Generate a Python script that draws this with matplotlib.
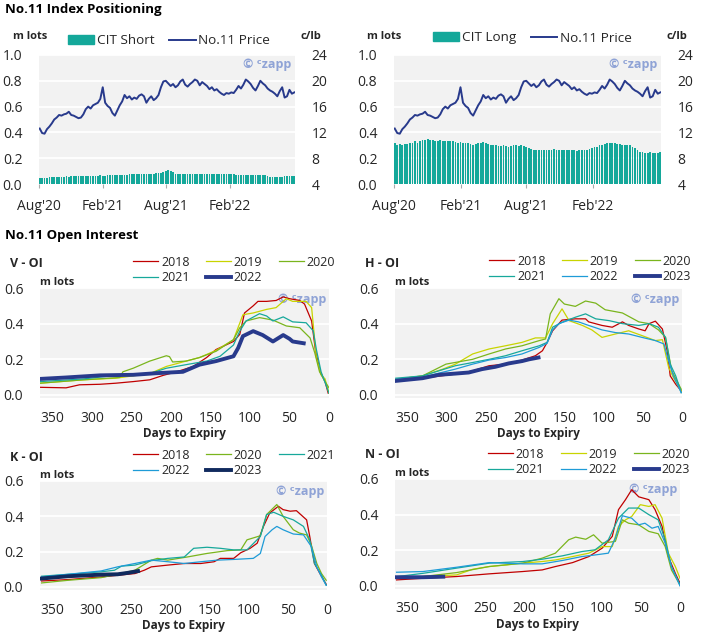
import matplotlib
matplotlib.use('Agg')
import matplotlib.pyplot as plt
import matplotlib.patches as mpatches
import matplotlib.lines as mlines
import numpy as np
import pandas as pd

plt.rcParams['font.family'] = ['Open Sans', 'DejaVu Sans']

# --- index positioning data (weekly) ---
weeks = pd.date_range('2020-08-02', periods=106, freq='7D')

price = [12.6, 11.9, 11.8, 12.5, 12.9, 13.4, 14.0, 14.3, 14.7, 14.6,
         14.8, 14.9, 15.2, 14.7, 14.6, 14.4, 14.2, 14.3, 14.8, 15.6,
         16.0, 15.7, 16.2, 16.4, 16.6, 17.2, 19.0, 16.6, 16.1, 15.8,
         15.0, 14.6, 15.4, 16.2, 16.8, 17.8, 17.3, 17.6, 17.1, 17.4,
         17.2, 17.7, 17.9, 17.6, 16.6, 17.2, 17.6, 17.0, 17.3, 17.8,
         19.0, 19.9, 20.0, 19.6, 19.2, 19.5, 19.0, 19.3, 19.9, 20.2,
         19.4, 19.1, 19.5, 19.8, 20.2, 20.0, 19.3, 19.8, 19.5, 19.2,
         18.7, 19.0, 18.5, 18.7, 18.3, 18.0, 17.8, 18.1, 18.0, 18.2,
         18.1, 18.6, 19.2, 18.8, 19.4, 20.2, 19.9, 19.5, 18.9, 18.5,
         19.2, 20.0, 19.6, 19.3, 18.8, 18.5, 18.3, 18.0, 17.6, 18.4,
         19.0, 17.4, 17.6, 18.6, 18.0, 18.2]

cit_short = [0.05, 0.045, 0.047, 0.05,
             0.055, 0.056, 0.055, 0.057, 0.058, 0.057, 0.058, 0.06, 0.058, 0.059, 0.06, 0.06, 0.059, 0.06, 0.061,
             0.062, 0.063, 0.062, 0.064, 0.065, 0.064, 0.066, 0.065, 0.064, 0.066, 0.068, 0.07,
             0.072, 0.07, 0.068, 0.07, 0.071,
             0.073, 0.075, 0.074, 0.076, 0.077, 0.076, 0.078, 0.077,
             0.078, 0.08, 0.079, 0.081, 0.082, 0.083, 0.085,
             0.095, 0.1, 0.105, 0.1, 0.09,
             0.08, 0.079, 0.08, 0.078, 0.079, 0.08, 0.078, 0.079, 0.08, 0.08, 0.079, 0.078,
             0.079, 0.08, 0.081, 0.08, 0.079, 0.08, 0.079, 0.078, 0.077, 0.078, 0.076, 0.075,
             0.074, 0.073, 0.072, 0.073, 0.072, 0.071, 0.072, 0.07, 0.071, 0.07, 0.07, 0.069, 0.068, 0.066,
             0.06, 0.058, 0.057, 0.056, 0.055, 0.056,
             0.058, 0.06, 0.06, 0.061, 0.06, 0.062]

cit_long = [0.32, 0.30, 0.31, 0.30, 0.31,
            0.31, 0.32, 0.32, 0.33, 0.32, 0.33,
            0.34, 0.34, 0.345, 0.34, 0.34, 0.335,
            0.335, 0.34, 0.335, 0.33, 0.335, 0.33, 0.33, 0.325,
            0.32, 0.325, 0.32, 0.32, 0.315, 0.31, 0.305,
            0.31, 0.315, 0.32, 0.325, 0.32,
            0.31, 0.305, 0.30, 0.30, 0.295, 0.295, 0.30, 0.295, 0.29,
            0.295, 0.30, 0.30, 0.295, 0.30, 0.295, 0.29, 0.28,
            0.275, 0.265, 0.26, 0.26,
            0.265, 0.26, 0.265, 0.26, 0.265, 0.27, 0.265, 0.26, 0.265, 0.26,
            0.265, 0.26, 0.265, 0.26, 0.255, 0.26, 0.265, 0.26, 0.265,
            0.275, 0.28, 0.29, 0.29, 0.30,
            0.305, 0.31, 0.315, 0.32, 0.32, 0.315, 0.31, 0.31, 0.305, 0.305, 0.30,
            0.30, 0.29, 0.28, 0.26, 0.25, 0.245,
            0.24, 0.24, 0.245, 0.24, 0.24, 0.24, 0.245]

date_ticks = ['2020-08-01', '2021-02-01', '2021-08-01', '2022-02-01']
date_labels = ["Aug'20", "Feb'21", "Aug'21", "Feb'22"]

# --- open interest data: (days to expiry, m lots) ---
v_2018 = [(366, 0.043), (333, 0.040), (316, 0.057), (290, 0.060), (270, 0.066), (248, 0.075), (227, 0.085),
          (210, 0.11), (193, 0.13), (172, 0.16), (155, 0.21), (143, 0.255), (121, 0.30), (113, 0.34),
          (107, 0.46), (96, 0.50), (90, 0.525), (79, 0.525), (67, 0.53), (58, 0.55), (50, 0.54), (37, 0.53),
          (31, 0.51), (22, 0.415), (17, 0.245), (11, 0.13), (5, 0.075), (1, 0.01)]
v_2019 = [(366, 0.066), (311, 0.085), (270, 0.094), (227, 0.12), (206, 0.16), (181, 0.19), (164, 0.21),
          (143, 0.25), (121, 0.31), (109, 0.45), (96, 0.46), (79, 0.48), (67, 0.49), (54, 0.54), (46, 0.525),
          (29, 0.525), (22, 0.49), (16, 0.21), (10, 0.113), (5, 0.09), (0, 0.01)]
v_2020 = [(366, 0.066), (311, 0.085), (265, 0.098), (261, 0.13), (248, 0.15), (227, 0.19), (206, 0.22),
          (202, 0.215), (198, 0.185), (181, 0.19), (164, 0.21), (143, 0.245), (121, 0.31), (113, 0.377),
          (105, 0.415), (88, 0.434), (71, 0.42), (54, 0.387), (37, 0.377), (24, 0.32), (18, 0.236),
          (12, 0.13), (5, 0.075), (0, 0.04)]
v_2021 = [(366, 0.075), (311, 0.09), (270, 0.11), (227, 0.12), (206, 0.15), (181, 0.17), (155, 0.19),
          (138, 0.217), (121, 0.28), (113, 0.358), (105, 0.415), (88, 0.456), (79, 0.443), (71, 0.415),
          (58, 0.438), (46, 0.41), (29, 0.405), (20, 0.36), (16, 0.255), (10, 0.13), (0, 0.01)]
v_2022 = [(366, 0.09), (333, 0.098), (290, 0.11), (248, 0.113), (219, 0.122), (185, 0.13), (164, 0.17),
          (143, 0.19), (121, 0.217), (115, 0.264), (109, 0.33), (96, 0.358), (84, 0.336), (71, 0.30),
          (58, 0.336), (50, 0.315), (46, 0.30), (32, 0.29)]

h_2018 = [(365, 0.079), (331, 0.094), (289, 0.117), (267, 0.135), (246, 0.164), (225, 0.173), (204, 0.196),
          (187, 0.22), (178, 0.248), (172, 0.295), (165, 0.36), (153, 0.42), (136, 0.427), (123, 0.427),
          (119, 0.41), (102, 0.39), (89, 0.38), (76, 0.41), (68, 0.39), (55, 0.37), (47, 0.36), (42, 0.40),
          (34, 0.414), (25, 0.37), (19, 0.25), (15, 0.107), (8, 0.06), (1, 0.023)]
h_2019 = [(365, 0.088), (331, 0.107), (305, 0.145), (289, 0.173), (267, 0.23), (246, 0.258), (225, 0.276),
          (204, 0.295), (187, 0.32), (174, 0.32), (165, 0.40), (153, 0.483), (144, 0.417), (127, 0.39),
          (115, 0.365), (102, 0.323), (85, 0.342), (68, 0.36), (51, 0.333), (34, 0.305), (25, 0.31),
          (17, 0.154), (11, 0.098), (1, 0.023)]
h_2020 = [(365, 0.088), (331, 0.107), (301, 0.173), (267, 0.20), (246, 0.23), (225, 0.258), (204, 0.276),
          (182, 0.305), (174, 0.314), (168, 0.455), (157, 0.54), (150, 0.51), (136, 0.497), (123, 0.527),
          (110, 0.515), (98, 0.478), (76, 0.46), (55, 0.41), (42, 0.40), (30, 0.365), (21, 0.323),
          (13, 0.135), (1, 0.032)]
h_2021 = [(365, 0.094), (331, 0.107), (289, 0.164), (267, 0.182), (246, 0.20), (225, 0.22), (204, 0.248),
          (182, 0.276), (172, 0.295), (165, 0.38), (153, 0.408), (136, 0.436), (123, 0.455), (110, 0.427),
          (93, 0.417), (76, 0.40), (55, 0.39), (42, 0.40), (30, 0.38), (21, 0.323), (15, 0.173),
          (8, 0.107), (1, 0.013)]
h_2022 = [(365, 0.088), (331, 0.10), (289, 0.145), (267, 0.173), (246, 0.196), (225, 0.21), (204, 0.23),
          (182, 0.267), (172, 0.29), (165, 0.365), (157, 0.40), (144, 0.42), (132, 0.41), (119, 0.39),
          (102, 0.365), (85, 0.35), (68, 0.342), (51, 0.323), (34, 0.305), (23, 0.286), (17, 0.19),
          (11, 0.107), (1, 0.013)]
h_2023 = [(365, 0.079), (331, 0.094), (310, 0.113), (289, 0.12), (272, 0.126), (255, 0.145), (238, 0.158),
          (221, 0.177), (204, 0.19), (195, 0.20), (183, 0.21)]

k_2018 = [(364, 0.034), (330, 0.042), (288, 0.057), (245, 0.076), (233, 0.095), (224, 0.114), (203, 0.124),
          (182, 0.133), (161, 0.133), (144, 0.143), (136, 0.162), (119, 0.162), (110, 0.194), (98, 0.219),
          (89, 0.248), (81, 0.343), (73, 0.419), (62, 0.457), (56, 0.438), (47, 0.429), (39, 0.432),
          (30, 0.396), (26, 0.38), (22, 0.286), (16, 0.133), (9, 0.076), (1, 0.015)]
k_2020 = [(364, 0.023), (330, 0.038), (288, 0.053), (267, 0.072), (245, 0.095), (224, 0.152), (216, 0.162),
          (203, 0.152), (178, 0.17), (153, 0.19), (127, 0.206), (110, 0.21), (102, 0.267), (85, 0.29),
          (77, 0.41), (64, 0.467), (56, 0.40), (43, 0.324), (35, 0.305), (26, 0.295), (20, 0.238),
          (13, 0.133), (7, 0.076), (1, 0.038)]
k_2021 = [(364, 0.061), (330, 0.072), (288, 0.086), (271, 0.095), (262, 0.118), (245, 0.124), (224, 0.149),
          (203, 0.162), (182, 0.17), (170, 0.219), (153, 0.225), (136, 0.219), (119, 0.21), (102, 0.21),
          (85, 0.286), (77, 0.41), (68, 0.423), (56, 0.40), (43, 0.38), (30, 0.343), (22, 0.267),
          (16, 0.133), (7, 0.067), (1, 0.01)]
k_2022 = [(364, 0.057), (330, 0.072), (288, 0.091), (267, 0.114), (245, 0.133), (224, 0.152), (203, 0.143),
          (182, 0.133), (161, 0.143), (140, 0.152), (119, 0.156), (94, 0.162), (85, 0.19), (79, 0.286),
          (70, 0.324), (64, 0.343), (56, 0.324), (43, 0.30), (30, 0.295), (20, 0.229), (13, 0.114),
          (7, 0.057), (1, 0.01)]
k_2023 = [(364, 0.048), (330, 0.061), (288, 0.07), (267, 0.072), (254, 0.08), (241, 0.09)]

n_2018 = [(364, 0.034), (330, 0.043), (287, 0.053), (245, 0.068), (202, 0.081), (177, 0.09), (160, 0.109),
          (138, 0.131), (117, 0.165), (100, 0.212), (87, 0.278), (79, 0.428), (70, 0.484), (62, 0.54),
          (53, 0.50), (40, 0.484), (32, 0.428), (23, 0.334), (15, 0.165), (6, 0.071), (0, 0.015)]
n_2019 = [(364, 0.043), (330, 0.053), (287, 0.062), (266, 0.094), (245, 0.109), (223, 0.118), (202, 0.128),
          (177, 0.137), (160, 0.146), (138, 0.165), (117, 0.184), (100, 0.221), (87, 0.221), (79, 0.334),
          (70, 0.371), (62, 0.39), (51, 0.456), (40, 0.446), (32, 0.456), (23, 0.38), (15, 0.184),
          (6, 0.109), (0, 0.043)]
n_2020 = [(364, 0.043), (330, 0.053), (287, 0.075), (245, 0.109), (202, 0.128), (177, 0.156), (160, 0.184),
          (143, 0.259), (134, 0.274), (121, 0.262), (111, 0.287), (100, 0.24), (83, 0.25), (74, 0.371),
          (66, 0.352), (53, 0.343), (40, 0.306), (28, 0.293), (19, 0.221), (11, 0.09), (0, 0.006)]
n_2021 = [(364, 0.052), (330, 0.071), (287, 0.10), (245, 0.128), (202, 0.137), (177, 0.15), (151, 0.169),
          (126, 0.193), (109, 0.203), (92, 0.259), (79, 0.38), (66, 0.437), (53, 0.437), (40, 0.40),
          (28, 0.371), (19, 0.259), (11, 0.109), (0, 0.006)]
n_2022 = [(364, 0.077), (330, 0.081), (287, 0.105), (245, 0.131), (202, 0.124), (177, 0.124), (151, 0.143),
          (126, 0.165), (109, 0.174), (92, 0.184), (83, 0.268), (74, 0.394), (62, 0.38), (53, 0.343),
          (45, 0.352), (36, 0.324), (28, 0.334), (19, 0.24), (11, 0.109), (0, 0.0)]
n_2023 = [(364, 0.049), (330, 0.049), (304, 0.052)]

# colours
teal = '#14A89A'
navy = '#283A8C'
bg = '#F2F2F2'
txt = '#262626'
wm = '#8FA3D6'
c18, c19, c20, c21, c22 = '#C00000', '#C8D400', '#7AB51D', '#17A89B', '#1E9BD7'

fig = plt.figure(figsize=(7.15, 6.33), dpi=100)
W, H = 715.0, 633.0


def rect(l, t, r, b):
    return [l / W, 1 - b / H, (r - l) / W, (b - t) / H]


def watermark(ax, x, y):
    ax.text(x, y, u'\u00a9 \u1d9czapp', transform=ax.transAxes, ha='right', va='center',
            color=wm, fontsize=9, fontweight='bold', zorder=1)


def top_panel(r, bars, bar_label, leg_xy):
    ax = fig.add_axes(r)
    ax.set_facecolor(bg)
    ax.bar(weeks, bars, width=5, color=teal, zorder=2)
    ax.set_ylim(0, 1)
    ax.set_yticks(np.arange(0, 1.01, 0.2))
    ax.set_yticklabels(['%.1f' % v for v in np.arange(0, 1.01, 0.2)])
    ax.grid(axis='y', color='white', lw=1.3)
    ax.set_axisbelow(True)
    ax.set_xlim(pd.Timestamp('2020-07-31'), pd.Timestamp('2022-08-09'))
    ax.set_xticks(pd.to_datetime(date_ticks))
    ax.set_xticklabels(date_labels)
    ax.tick_params(axis='x', length=3, color='#AAAAAA', pad=8, labelsize=10, labelcolor=txt)
    ax.tick_params(axis='y', length=0, pad=12, labelsize=10, labelcolor=txt)
    ax2 = ax.twinx()
    ax2.plot(weeks, price, color=navy, lw=1.4)
    ax2.set_ylim(4, 24)
    ax2.set_yticks(range(4, 25, 4))
    ax2.tick_params(axis='y', length=0, pad=12, labelsize=10, labelcolor=txt)
    for a in (ax, ax2):
        for s in a.spines.values():
            s.set_visible(False)
    ax.text(-0.1, 1.14, 'm lots', transform=ax.transAxes, fontsize=8, fontweight='bold', color=txt,
            ha='left', va='center')
    ax.text(1.02, 1.14, 'c/lb', transform=ax.transAxes, fontsize=8, fontweight='bold', color=txt,
            ha='left', va='center')
    watermark(ax2, 0.985, 0.93)
    hb = mpatches.Patch(color=teal)
    hl = mlines.Line2D([], [], color=navy, lw=1.4)
    fig.legend([hb, hl], [bar_label, 'No.11 Price'], loc='center', bbox_to_anchor=leg_xy, ncol=2,
               frameon=False, fontsize=9.7, handlelength=1.95, handleheight=0.6, handletextpad=0.2,
               columnspacing=1.1, borderpad=0, labelcolor=txt)
    return ax


def oi_panel(r, title, series, leg_xy):
    ax = fig.add_axes(r)
    ax.set_facecolor(bg)
    handles = []
    labels = []
    for lab, pts, col, lw in series:
        d = [p[0] for p in pts]
        v = [p[1] for p in pts]
        ln, = ax.plot(d, v, color=col, lw=lw, zorder=3 if lw > 2 else 2)
        handles.append(ln)
        labels.append(lab)
    ax.set_xlim(366, 0)
    ax.set_ylim(-0.017, 0.6)
    ax.set_xticks(range(350, -1, -50))
    ax.set_yticks([0, 0.2, 0.4, 0.6])
    ax.set_yticklabels(['0.0', '0.2', '0.4', '0.6'])
    ax.grid(axis='y', color='white', lw=1.3)
    ax.set_axisbelow(True)
    ax.tick_params(axis='both', length=0, labelsize=10, labelcolor=txt)
    ax.tick_params(axis='x', pad=9)
    ax.tick_params(axis='y', pad=12)
    for s in ax.spines.values():
        s.set_visible(False)
    ax.set_xlabel('Days to Expiry', fontsize=8.5, fontweight='bold', color=txt, labelpad=1)
    ax.text(0.0, 1.0, 'm lots', transform=ax.transAxes, fontsize=8, fontweight='bold', color=txt,
            ha='left', va='bottom')
    ax.text(-0.105, 1.22, title, transform=ax.transAxes, fontsize=9, fontweight='bold', color=txt,
            ha='left', va='center')
    watermark(ax, 0.99, 0.9)
    # legend filled row by row
    n = len(handles)
    nrows = (n + 2) // 3
    order = [row * 3 + col for col in range(3) for row in range(nrows) if row * 3 + col < n]
    fig.legend([handles[i] for i in order], [labels[i] for i in order], loc='center',
               bbox_to_anchor=leg_xy, ncol=3, frameon=False, fontsize=9, handlelength=2.0,
               handletextpad=0.25, columnspacing=1.3, labelspacing=0.2, borderpad=0, labelcolor=txt)
    return ax


# section titles
fig.text(5 / W, 1 - 9 / H, 'No.11 Index Positioning', fontsize=9.5, fontweight='bold', color='black',
         va='center', ha='left')
fig.text(5 / W, 1 - 235 / H, 'No.11 Open Interest', fontsize=9.5, fontweight='bold', color='black',
         va='center', ha='left')

top_panel(rect(39, 55, 295, 184), cit_short, 'CIT Short', (169 / W, 1 - 41 / H))
top_panel(rect(394, 55, 661, 184), cit_long, 'CIT Long', (532 / W, 1 - 38 / H))

thin = 0.9
thick = 2.8
oi_panel(rect(40, 288, 329, 398), 'V - OI',
         [('2018', v_2018, c18, thin), ('2019', v_2019, c19, thin), ('2020', v_2020, c20, thin),
          ('2021', v_2021, c21, thin), ('2022', v_2022, navy, thick)],
         (234 / W, 1 - 270 / H))
oi_panel(rect(395, 288, 682, 398), 'H - OI',
         [('2018', h_2018, c18, thin), ('2019', h_2019, c19, thin), ('2020', h_2020, c20, thin),
          ('2021', h_2021, c21, thin), ('2022', h_2022, c22, thin), ('2023', h_2023, navy, thick)],
         (590 / W, 1 - 269 / H))
oi_panel(rect(40, 481, 327, 590), 'K - OI',
         [('2018', k_2018, c18, thin), ('2020', k_2020, c20, thin), ('2021', k_2021, c21, thin),
          ('2022', k_2022, c22, thin), ('2023', k_2023, '#102A5E', thick)],
         (234 / W, 1 - 463 / H))
oi_panel(rect(395, 479, 680, 589), 'N - OI',
         [('2018', n_2018, c18, thin), ('2019', n_2019, c19, thin), ('2020', n_2020, c20, thin),
          ('2021', n_2021, c21, thin), ('2022', n_2022, c22, thin), ('2023', n_2023, navy, thick)],
         (589 / W, 1 - 462 / H))

fig.savefig('out.png', dpi=100)
